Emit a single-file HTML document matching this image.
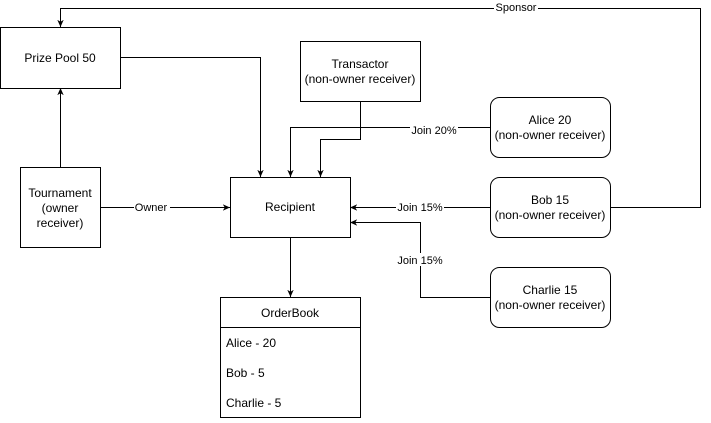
<!DOCTYPE html>
<html><head><style>body{margin:0;background:#fff}</style></head><body>
<svg width="711" height="418" viewBox="0 0 711 418" xmlns="http://www.w3.org/2000/svg" font-family="Liberation Sans, sans-serif" font-size="12" fill="none" stroke="#000">
<defs><marker id="a" viewBox="0 0 10 10" refX="9" refY="5" markerWidth="8" markerHeight="8" orient="auto"><path d="M0,1 L9,5 L0,9 L2.5,5z" fill="#000" stroke="none"/></marker></defs>
<g stroke-width="1">
<path d="M610.5 207.5H700.5V8.5H60.5V27" marker-end="url(#a)"/>
<path d="M120.5 57.5H260.5V177" marker-end="url(#a)"/>
<path d="M60.5 167V88" marker-end="url(#a)"/>
<path d="M100.5 207.5H230" marker-end="url(#a)"/>
<path d="M360.5 101V139.5H320.5V177" marker-end="url(#a)"/>
<path d="M490 127.5H290.5V177" marker-end="url(#a)"/>
<path d="M490 207.5H350" marker-end="url(#a)"/>
<path d="M490 297.5H420.5V222.5H350" marker-end="url(#a)"/>
<path d="M290.5 237V297" marker-end="url(#a)"/>
<rect x="0.5" y="27.5" width="120" height="61" fill="#fff"/>
<rect x="300.5" y="41.5" width="120" height="60" fill="#fff"/>
<rect x="490.5" y="97.5" width="120" height="60" rx="9" fill="#fff"/>
<rect x="20.5" y="167.5" width="80" height="80" fill="#fff"/>
<rect x="230.5" y="177.5" width="120" height="60" fill="#fff"/>
<rect x="490.5" y="177.5" width="120" height="60" rx="9" fill="#fff"/>
<rect x="490.5" y="267.5" width="120" height="60" rx="9" fill="#fff"/>
<rect x="220.5" y="297.5" width="140" height="120" fill="#fff"/>
<path d="M220.5 327.5H360.5"/>
</g>
<g fill="#000" stroke="none" text-anchor="middle">
<text x="60" y="62">Prize Pool 50</text>
<text x="360" y="68">Transactor</text><text x="360" y="83">(non-owner receiver)</text>
<text x="550" y="124">Alice 20</text><text x="550" y="139">(non-owner receiver)</text>
<text x="60" y="197">Tournament</text><text x="60" y="212">(owner</text><text x="60" y="227">receiver)</text>
<text x="290" y="211">Recipient</text>
<text x="550" y="204">Bob 15</text><text x="550" y="219">(non-owner receiver)</text>
<text x="550" y="294">Charlie 15</text><text x="550" y="309">(non-owner receiver)</text>
<text x="290" y="317">OrderBook</text>
</g>
<g fill="#000" stroke="none" text-anchor="start">
<text x="226" y="347">Alice - 20</text>
<text x="226" y="377">Bob - 5</text>
<text x="226" y="407">Charlie - 5</text>
</g>
<g font-size="11" text-anchor="middle">
<rect x="494" y="1" width="44" height="13" fill="#fff" stroke="none"/>
<text x="516" y="11" fill="#000" stroke="none">Sponsor</text>
<rect x="134" y="201" width="36" height="13" fill="#fff" stroke="none"/>
<text x="151" y="211" fill="#000" stroke="none">Owner</text>
<rect x="410" y="124" width="48" height="13" fill="#fff" stroke="none"/>
<text x="434" y="134" fill="#000" stroke="none">Join 20%</text>
<rect x="396" y="201" width="48" height="13" fill="#fff" stroke="none"/>
<text x="420" y="211" fill="#000" stroke="none">Join 15%</text>
<rect x="396" y="253" width="48" height="13" fill="#fff" stroke="none"/>
<text x="420" y="264" fill="#000" stroke="none">Join 15%</text>
</g>
</svg>
</body></html>
